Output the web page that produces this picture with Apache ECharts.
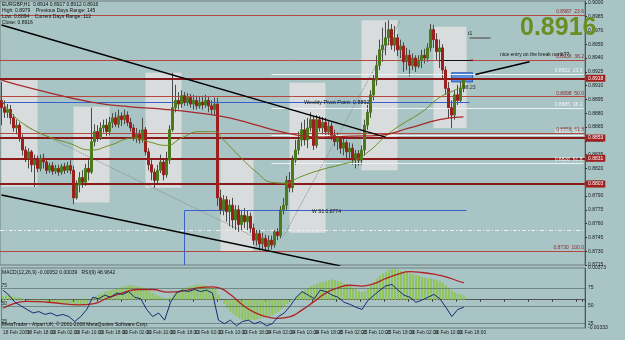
<!DOCTYPE html>
<html><head><meta charset="utf-8">
<script src="https://cdn.jsdelivr.net/npm/echarts@6/dist/echarts.min.js"></script>
<style>html,body{margin:0;padding:0;background:#a8c4c4}#c{width:625px;height:340px}</style>
</head><body><div id="c"></div><script>
// ---------- DATA ----------
const tickLabels = ["18 Feb 2009","18 Feb 18:00","19 Feb 02:00","19 Feb 10:00","19 Feb 18:00","20 Feb 02:00","20 Feb 10:00","20 Feb 18:00","23 Feb 02:00","23 Feb 10:00","23 Feb 18:00","24 Feb 02:00","24 Feb 10:00","24 Feb 18:00","25 Feb 02:00","25 Feb 10:00","25 Feb 18:00","26 Feb 02:00","26 Feb 10:00","26 Feb 18:00"];
// [open, close, low, high]
const candles = [
[0.8894,0.8886,0.8867,0.8914],[0.8886,0.8881,0.8875,0.8894],[0.8881,0.8884,0.8875,0.8890],[0.8884,0.8875,0.8868,0.8889],[0.8875,0.8864,0.8860,0.8879],
[0.8864,0.8867,0.8857,0.8873],[0.8867,0.8853,0.8849,0.8870],[0.8853,0.8840,0.8834,0.8857],[0.8840,0.8831,0.8827,0.8844],[0.8831,0.8838,0.8820,0.8842],
[0.8838,0.8824,0.8816,0.8840],[0.8824,0.8829,0.8800,0.8835],[0.8829,0.8820,0.8816,0.8834],[0.8820,0.8831,0.8817,0.8835],[0.8831,0.8827,0.8820,0.8836],
[0.8827,0.8818,0.8814,0.8831],[0.8818,0.8823,0.8815,0.8826],[0.8823,0.8817,0.8813,0.8827],[0.8817,0.8820,0.8814,0.8824],[0.8820,0.8816,0.8812,0.8824],
[0.8816,0.8822,0.8813,0.8825],[0.8822,0.8818,0.8814,0.8826],[0.8818,0.8823,0.8815,0.8827],[0.8823,0.8818,0.8814,0.8829],[0.8818,0.8788,0.8781,0.8823],
[0.8788,0.8802,0.8786,0.8807],[0.8802,0.8810,0.8794,0.8816],[0.8810,0.8805,0.8799,0.8818],[0.8805,0.8820,0.8801,0.8825],[0.8820,0.8816,0.8807,0.8829],
[0.8816,0.8849,0.8814,0.8886],[0.8849,0.8860,0.8844,0.8868],[0.8860,0.8853,0.8849,0.8867],[0.8853,0.8864,0.8851,0.8870],[0.8864,0.8867,0.8859,0.8873],
[0.8867,0.8860,0.8855,0.8874],[0.8860,0.8870,0.8856,0.8876],[0.8870,0.8875,0.8864,0.8880],[0.8875,0.8868,0.8865,0.8881],[0.8868,0.8877,0.8864,0.8884],
[0.8877,0.8873,0.8866,0.8881],[0.8873,0.8878,0.8868,0.8884],[0.8878,0.8870,0.8866,0.8882],[0.8870,0.8864,0.8860,0.8875],[0.8864,0.8853,0.8850,0.8868],
[0.8853,0.8857,0.8848,0.8864],[0.8857,0.8851,0.8847,0.8862],[0.8851,0.8862,0.8848,0.8875],[0.8862,0.8838,0.8834,0.8865],[0.8838,0.8824,0.8818,0.8842],
[0.8824,0.8816,0.8807,0.8829],[0.8816,0.8807,0.8799,0.8820],[0.8807,0.8818,0.8803,0.8824],[0.8818,0.8827,0.8815,0.8835],[0.8827,0.8813,0.8807,0.8831],
[0.8813,0.8829,0.8810,0.8838],[0.8829,0.8862,0.8825,0.8867],[0.8862,0.8886,0.8860,0.8924],[0.8886,0.8894,0.8881,0.8911],[0.8894,0.8890,0.8884,0.8903],
[0.8890,0.8899,0.8886,0.8905],[0.8899,0.8892,0.8888,0.8903],[0.8892,0.8897,0.8888,0.8902],[0.8897,0.8890,0.8886,0.8901],[0.8890,0.8894,0.8884,0.8900],
[0.8894,0.8888,0.8884,0.8899],[0.8888,0.8892,0.8885,0.8898],[0.8892,0.8889,0.8884,0.8899],[0.8889,0.8894,0.8886,0.8900],[0.8894,0.8888,0.8881,0.8898],
[0.8888,0.8884,0.8879,0.8894],[0.8884,0.8890,0.8878,0.8897],[0.8890,0.8788,0.8779,0.8897],[0.8788,0.8775,0.8770,0.8797],[0.8775,0.8786,0.8769,0.8791],
[0.8786,0.8773,0.8762,0.8790],[0.8773,0.8780,0.8757,0.8786],[0.8780,0.8764,0.8755,0.8788],[0.8764,0.8775,0.8753,0.8780],[0.8775,0.8759,0.8751,0.8780],
[0.8759,0.8769,0.8753,0.8775],[0.8769,0.8762,0.8755,0.8777],[0.8762,0.8768,0.8753,0.8774],[0.8768,0.8755,0.8750,0.8772],[0.8755,0.8742,0.8737,0.8760],
[0.8742,0.8749,0.8736,0.8753],[0.8749,0.8738,0.8731,0.8753],[0.8738,0.8744,0.8732,0.8750],[0.8744,0.8735,0.8729,0.8748],[0.8735,0.8742,0.8731,0.8747],
[0.8742,0.8737,0.8732,0.8747],[0.8737,0.8751,0.8734,0.8753],[0.8751,0.8747,0.8742,0.8755],[0.8747,0.8775,0.8744,0.8779],[0.8775,0.8780,0.8770,0.8788],
[0.8780,0.8807,0.8775,0.8812],[0.8807,0.8799,0.8794,0.8816],[0.8799,0.8829,0.8794,0.8834],[0.8829,0.8840,0.8824,0.8851],[0.8840,0.8851,0.8835,0.8860],
[0.8851,0.8862,0.8844,0.8870],[0.8862,0.8851,0.8845,0.8873],[0.8851,0.8864,0.8842,0.8875],[0.8864,0.8873,0.8860,0.8881],[0.8873,0.8845,0.8840,0.8877],
[0.8845,0.8873,0.8842,0.8878],[0.8873,0.8864,0.8860,0.8877],[0.8864,0.8870,0.8857,0.8876],[0.8870,0.8860,0.8855,0.8875],[0.8860,0.8866,0.8854,0.8871],
[0.8866,0.8856,0.8851,0.8870],[0.8856,0.8849,0.8844,0.8862],[0.8849,0.8853,0.8840,0.8859],[0.8853,0.8842,0.8836,0.8856],[0.8842,0.8848,0.8834,0.8853],
[0.8848,0.8838,0.8831,0.8851],[0.8838,0.8842,0.8829,0.8848],[0.8842,0.8831,0.8824,0.8847],[0.8831,0.8836,0.8820,0.8840],[0.8836,0.8829,0.8823,0.8840],
[0.8829,0.8840,0.8824,0.8845],[0.8840,0.8867,0.8834,0.8873],[0.8867,0.8881,0.8862,0.8889],[0.8881,0.8900,0.8875,0.8905],[0.8900,0.8916,0.8894,0.8922],
[0.8916,0.8932,0.8910,0.8943],[0.8932,0.8949,0.8927,0.8960],[0.8949,0.8954,0.8936,0.8973],[0.8954,0.8962,0.8943,0.8979],[0.8962,0.8971,0.8954,0.8981],
[0.8971,0.8954,0.8949,0.8977],[0.8954,0.8962,0.8947,0.8975],[0.8962,0.8949,0.8942,0.8966],[0.8949,0.8953,0.8940,0.8960],[0.8953,0.8936,0.8925,0.8957],
[0.8936,0.8943,0.8927,0.8951],[0.8943,0.8932,0.8920,0.8949],[0.8932,0.8940,0.8927,0.8945],[0.8940,0.8931,0.8925,0.8943],[0.8931,0.8938,0.8929,0.8943],
[0.8938,0.8943,0.8929,0.8949],[0.8943,0.8940,0.8934,0.8950],[0.8940,0.8951,0.8936,0.8956],[0.8951,0.8971,0.8947,0.8977],[0.8971,0.8960,0.8951,0.8976],
[0.8960,0.8947,0.8938,0.8967],[0.8947,0.8951,0.8929,0.8960],[0.8951,0.8927,0.8916,0.8955],[0.8927,0.8907,0.8900,0.8931],[0.8907,0.8886,0.8875,0.8914],
[0.8886,0.8878,0.8864,0.8894],[0.8878,0.8900,0.8873,0.8905],[0.8900,0.8894,0.8889,0.8911],[0.8894,0.8907,0.8891,0.8914],[0.8907,0.8916,0.8903,0.8918]
];
// moving averages: [bar index, value]
const maGreen = [[0,0.8894],[3,0.8881],[8,0.8867],[16,0.8854],[22,0.8848],[30,0.8840],[36,0.8845],[44,0.8853],[49,0.8849],[55,0.8845],[60,0.8853],[66,0.8860],[71,0.8860],[74,0.8851],[80,0.8831],[85,0.8816],[90,0.8805],[95,0.8804],[99,0.8810],[106,0.8818],[113,0.8824],[118,0.8829],[123,0.8840],[128,0.8855],[133,0.8867],[140,0.8881],[146,0.8897],[151,0.8905],[154,0.8910]];
const maRed = [[0,0.8916],[10,0.8907],[30,0.8892],[43,0.8887],[55,0.8884],[66,0.8880],[76,0.8875],[85,0.8867],[93,0.8860],[99,0.8856],[107,0.8854],[116,0.8855],[126,0.8856],[136,0.8864],[146,0.8873],[154,0.8876]];
// trend lines: [[i1,p1],[i2,p2]]
const trendBlack = [[[0,0.8976],[128,0.8854]], [[0,0.8791],[113,0.8714]], [[158,0.8922],[176,0.8936]]];
const trendDotted = [[[8,0.8866],[91,0.8735]], [[94,0.8746],[133,0.8981]]];
// session boxes: [i1, i2, top, bottom]
const boxes = [[0,12,0.8918,0.8800],[24,36,0.8887,0.8783],[48,60,0.8924,0.8799],[73,84,0.8831,0.8729],[96,108,0.8913,0.8750],[120,132,0.8981,0.8818],[144,155,0.8974,0.8864]];
// entry zone rectangle [i1,i2,top,bottom]
const entryBox = [150,157,0.8924,0.8914];
// fibonacci levels (red) and ratios
const fibRed = [0.8987,0.8938,0.8898,0.8858,0.8730];
const fibRedTxt = ["23.6","38.2","50.0","61.8","100.0"];
// second fibonacci (white), drawn from the 24 Feb low
const fibWhite = [0.8922,0.8885,0.8856,0.8826];
const fibWhiteTxt = ["23.6","38.2","50.0","61.8"];
const fibWhiteStart = 90;
const dashLevel = 0.8753;
// thick support/resistance
const srLines = [0.8918,0.8853,0.8831,0.8803];
const weeklyPivot = 0.8892, weeklyS1 = 0.8774;
const t1Level = 0.8962, entryLevel = 0.8938;
// indicator window
const macdHist = [4,5,5,4,3,3,2,1,0,-1,-1,-2,-2,-1,-2,-3,-3,-4,-4,-4,-5,-5,-4,-4,-5,-7,-6,-5,
-4,-2,2,4,6,7,9,10,11,12,13,14,15,16,17,17,16,16,15,14,12,10,8,6,4,3,2,2,
3,6,9,11,13,14,15,16,17,18,17,17,16,15,14,13,
6,0,-5,-10,-14,-17,-20,-22,-24,-25,-25,-24,-24,-23,-22,-21,-20,-19,-18,-16,-14,-11,-8,-5,-2,
1,4,7,10,12,14,16,17,19,20,21,22,23,24,23,22,21,19,18,16,14,12,10,9,
10,13,17,21,25,28,31,33,35,36,36,35,34,33,32,31,30,29,28,27,26,25,25,24,23,22,20,17,14,11,9,7,6,5];
const macdSignal = [[0,-10],[8,-2],[15,-3],[25,-6],[30,-5],[35,2],[40,8],[45,12],[50,12],[55,9],[60,10],[65,14],[70,15],[73,13],[76,6],[80,-6],[84,-15],[88,-20],[92,-22],[96,-20],[100,-12],[104,-2],[108,8],[112,14],[116,17],[120,16],[124,19],[128,25],[132,30],[136,33],[140,32],[144,30],[148,27],[152,22],[154,20]];
const rsi = [[0,72],[2,65],[4,55],[6,50],[8,45],[10,40],[12,42],[14,38],[16,40],[18,36],[20,38],[22,35],[24,28],[26,35],[28,45],[30,62],[32,60],[34,65],[36,62],[38,68],[40,66],[42,70],[44,62],[46,60],[48,45],[50,35],[52,40],[54,30],[56,55],[58,68],[60,72],[62,70],[64,73],[66,70],[68,72],[70,68],[72,30],[74,25],[76,30],[78,22],[80,28],[82,30],[84,25],[86,28],[88,22],[90,25],[92,35],[94,40],[96,50],[98,62],[100,70],[102,65],[104,60],[106,72],[108,70],[110,65],[112,62],[114,55],[116,52],[118,48],[120,45],[122,58],[124,65],[126,72],[128,78],[130,80],[132,72],[134,65],[136,62],[138,55],[140,58],[142,62],[144,66],[146,60],[148,48],[150,35],[152,45],[154,48]];
const rsiLevels = [75,50,25];
const macdRange = [-0.00333, 0.00373];

// ---------- CHART ----------
const N = 195;
const cats = []; for (let i = 0; i < N; i++) cats.push(String(i));
const F = 'Liberation Sans, Arial, sans-serif';
const chart = echarts.init(document.getElementById('c'), null, {renderer:'canvas'});

const mlData = [];
fibRed.forEach((v,k)=>mlData.push({yAxis:v, lineStyle:{color:'#b5473f',width:1,type:'solid'},
  label:{show:true,position:'insideEndTop',formatter:v.toFixed(4)+'  '+fibRedTxt[k],color:'#8a2a2a',fontSize:5,fontFamily:F,distance:1}}));
fibWhite.forEach((v,k)=>mlData.push([{coord:[fibWhiteStart,v],lineStyle:{color:'#eef2f2',width:1,type:'solid'},
  label:{show:true,position:'insideEndTop',formatter:v.toFixed(4)+'  '+fibWhiteTxt[k],color:'#f4f4f4',fontSize:5,fontFamily:F,distance:1}},{coord:[N-1,v]}]));
mlData.push({yAxis:dashLevel, lineStyle:{color:'#f0f0f0',width:1,type:[4,2,1,2]}, label:{show:false}});
srLines.forEach(v=>mlData.push({yAxis:v, lineStyle:{color:'#8b1a1a',width:2,type:'solid'},
  label:{show:true,position:'end',formatter:v.toFixed(4),color:'#fff',backgroundColor:'#a02020',fontSize:5,fontFamily:F,padding:[1,2],distance:1}}));
mlData.push([{coord:[0,weeklyPivot],lineStyle:{color:'#3a5fcd',width:1,type:'solid'},label:{show:false}},{coord:[156,weeklyPivot]}]);
mlData.push([{coord:[61,weeklyS1],lineStyle:{color:'#3a5fcd',width:1,type:'solid'},label:{show:false}},{coord:[155,weeklyS1]}]);
mlData.push([{coord:[61,weeklyS1],lineStyle:{color:'#3a5fcd',width:1,type:'solid'},label:{show:false}},{coord:[61,0.8715]}]);
mlData.push([{coord:[156,t1Level],lineStyle:{color:'#6a6a6a',width:1.5,type:'solid'},label:{show:false}},{coord:[163,t1Level]}]);
mlData.push([{coord:[146,entryLevel],lineStyle:{color:'#111',width:1,type:'solid'},label:{show:false}},{coord:[157,entryLevel]}]);

const bodies = candles.map(c=>[c[0],c[1],Math.min(c[0],c[1]),Math.max(c[0],c[1])]);

const series = [
  {type:'line', xAxisIndex:0, yAxisIndex:0, data:[], z:1, silent:true,
   markArea:{silent:true, precision:4, itemStyle:{color:'#d9dcdc'},
     data: boxes.map(b=>[{xAxis:b[0],yAxis:b[2]},{xAxis:b[1],yAxis:b[3]}])}},
  {type:'candlestick', xAxisIndex:0, yAxisIndex:0, data:candles, z:4, barWidth:1,
   itemStyle:{color:'#4a4a4a', color0:'#4a4a4a', borderColor:'#4a4a4a', borderColor0:'#4a4a4a', borderWidth:1},
   markLine:{silent:true, precision:4, symbol:['none','none'], animation:false, data:mlData},
   markArea:{silent:true, precision:4, itemStyle:{color:'#5a8fe0',borderColor:'#2f5fb8',borderWidth:1},
     data:[[{xAxis:entryBox[0],yAxis:entryBox[2]},{xAxis:entryBox[1],yAxis:entryBox[3]}]]}},
  {type:'candlestick', xAxisIndex:0, yAxisIndex:0, data:bodies, z:5, barWidth:2,
   itemStyle:{color:'#4a7a1c', color0:'#9b1f1f', borderColor:'#4a7a1c', borderColor0:'#9b1f1f', borderWidth:1}},
  {type:'line', xAxisIndex:0, yAxisIndex:0, data:maGreen, smooth:true, symbol:'none', lineStyle:{color:'#6b8e23',width:1}, z:6},
  {type:'line', xAxisIndex:0, yAxisIndex:0, data:maRed, smooth:true, symbol:'none', lineStyle:{color:'#a52a2a',width:1.3}, z:6}
];
trendBlack.forEach(t=>series.push({type:'line',xAxisIndex:0,yAxisIndex:0,data:t,symbol:'none',lineStyle:{color:'#000',width:1.5},z:7}));
trendDotted.forEach(t=>series.push({type:'line',xAxisIndex:0,yAxisIndex:0,data:t,symbol:'none',lineStyle:{color:'#8a8a8a',width:1,type:'dotted'},z:4}));
// indicator window
series.push({type:'bar', xAxisIndex:1, yAxisIndex:2, data:macdHist.map(v=>v/10000), barWidth:2, itemStyle:{color:'#8fc456'}, z:2});
series.push({type:'line', xAxisIndex:1, yAxisIndex:2, data:macdSignal.map(d=>[d[0],d[1]/10000]), smooth:true, symbol:'none', lineStyle:{color:'#b22222',width:1.3}, z:4});
series.push({type:'line', xAxisIndex:1, yAxisIndex:1, data:rsi, symbol:'none', lineStyle:{color:'#1b2a78',width:1}, z:5,
  markLine:{silent:true, precision:2, symbol:['none','none'], animation:false,
    data: rsiLevels.map(v=>({yAxis:v, lineStyle:{color:'#3c4a4a',type:'dotted',width:1},
      label:{show:true,position:'insideStartTop',formatter:String(v),fontSize:5,color:'#222',fontFamily:F,distance:0}}))}});

chart.setOption({
  animation:false,
  backgroundColor:'#a8c4c4',
  grid:[{left:0,right:40,top:1,height:264,show:true,borderColor:'#6e7f7f',borderWidth:1,backgroundColor:'transparent'},
        {left:0,right:40,top:268,height:60,show:true,borderColor:'#6e7f7f',borderWidth:1}],
  xAxis:[
    {type:'category',gridIndex:0,data:cats,boundaryGap:true,axisLine:{show:false},axisTick:{show:false},axisLabel:{show:false},splitLine:{show:false}},
    {type:'category',gridIndex:1,data:cats,boundaryGap:true,axisLine:{show:true,lineStyle:{color:'#555'}},
     axisTick:{show:true,interval:7,length:2,lineStyle:{color:'#333'}},
     axisLabel:{show:true,interval:0,fontSize:4.8,fontFamily:F,color:'#1a1a1a',margin:2,align:'left',
       formatter:(v,i)=> (i%8===0 && tickLabels[i/8]) ? tickLabels[i/8] : ''},splitLine:{show:false}}
  ],
  yAxis:[
    {type:'value',gridIndex:0,position:'right',min:0.8715,max:0.9002,interval:0.0015,
     axisLine:{show:true,lineStyle:{color:'#555'}},axisTick:{show:true,length:2,lineStyle:{color:'#333'}},
     axisLabel:{fontSize:5,fontFamily:F,color:'#1a1a1a',margin:3,showMaxLabel:false,formatter:v=>v.toFixed(4)},splitLine:{show:false}},
    {type:'value',gridIndex:1,position:'right',min:19,max:103,
     axisLine:{show:true,lineStyle:{color:'#555'}},axisTick:{show:false},
     axisLabel:{fontSize:5,fontFamily:F,color:'#1a1a1a',margin:3,customValues:rsiLevels},splitLine:{show:false}},
    {type:'value',gridIndex:1,position:'right',min:macdRange[0],max:macdRange[1],
     axisLine:{show:false},axisTick:{show:false},
     axisLabel:{fontSize:5,fontFamily:F,color:'#1a1a1a',margin:3,customValues:macdRange,formatter:v=>v.toFixed(5)},splitLine:{show:false}}
  ],
  series:series,
  graphic:[
    {type:'text',left:2,top:2,z:100,style:{text:'EURGBP,H1  0.8914 0.8917 0.8912 0.8916\nHigh: 0.8979    Previous Days Range: 145\nLow: 0.8894    Current Days Range: 112\nClose: 0.8916',font:'5px '+F,fill:'#111',lineHeight:6}},
    {type:'text',left:520,top:16,z:100,style:{text:'0.8916',font:'bold 25px '+F,fill:'#6b8e23'}},
    {type:'text',left:500,top:52,z:100,style:{text:'nice entry on the break north??',font:'5px '+F,fill:'#111'}},
    {type:'text',left:468,top:31,z:100,style:{text:'t1',font:'5px '+F,fill:'#111'}},
    {type:'text',left:470,top:57,z:100,style:{text:'×',font:'6px '+F,fill:'#c02020'}},
    {type:'text',left:304,top:99,z:100,style:{text:'Weekly Pivot Point: 0.8892',font:'5.5px '+F,fill:'#111'}},
    {type:'text',left:312,top:209,z:100,style:{text:'W S1 0.8774',font:'5px '+F,fill:'#111'}},
    {type:'text',left:463,top:85,z:100,style:{text:'98.23',font:'5px '+F,fill:'#3a2a2a'}},
    {type:'text',left:2,top:270,z:100,style:{text:'MACD(12,26,9) -0.00052 0.00039   RSI(9) 48.9642',font:'5px '+F,fill:'#111'}},
    {type:'text',left:2,top:322,z:100,style:{text:'MetaTrader - Alpari UK, © 2001-2008 MetaQuotes Software Corp.',font:'5px '+F,fill:'#111'}}
  ]
});
</script></body></html>
